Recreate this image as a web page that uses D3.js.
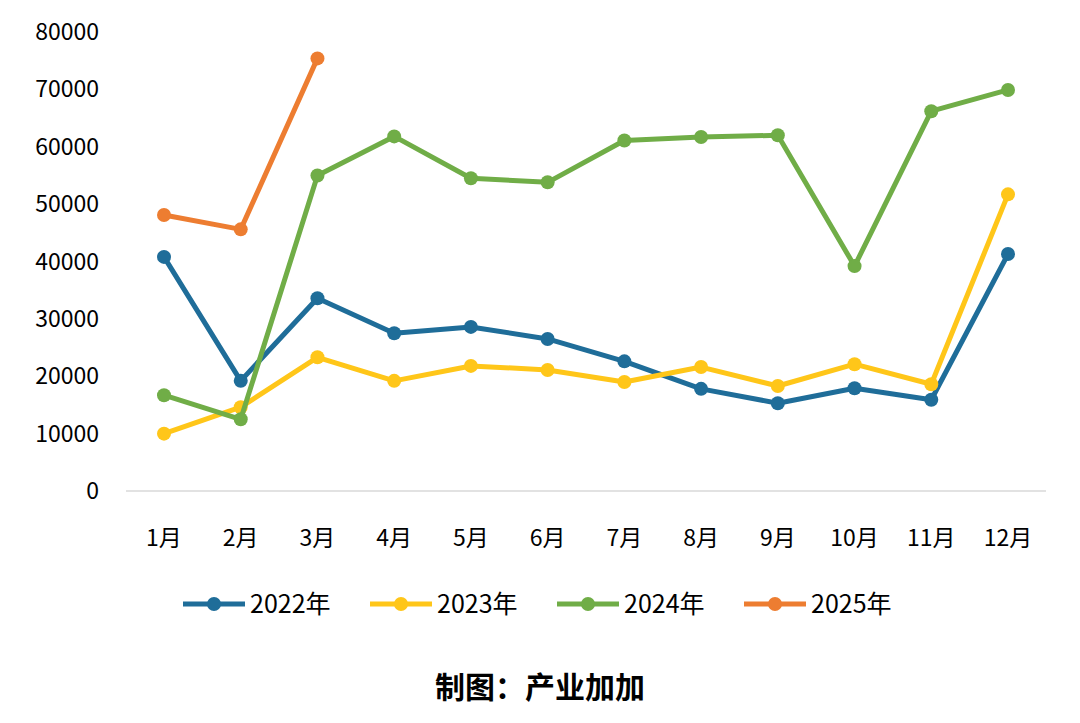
<!DOCTYPE html><html><head><meta charset="utf-8"><script src="https://cdn.jsdelivr.net/npm/d3@7"></script>
<style>body{margin:0;background:#fff}text{font-family:"Noto Sans CJK SC","Open Sans",sans-serif}</style></head><body>
<svg id="c" width="1080" height="723"></svg>
<script>
const months=["1月","2月","3月","4月","5月","6月","7月","8月","9月","10月","11月","12月"];
const yTicks=[0,10000,20000,30000,40000,50000,60000,70000,80000];
const s2022=[40800,19200,33600,27500,28600,26500,22600,17800,15300,17900,15900,41300];
const s2023=[10000,14600,23300,19200,21800,21100,19000,21600,18300,22100,18600,51700];
const s2024=[16700,12500,55000,61800,54500,53800,61100,61700,62000,39200,66200,69900];
const s2025=[48100,45600,75400];
const series=[{n:"2022年",v:s2022,c:"#1f6d99"},{n:"2023年",v:s2023,c:"#ffc619"},{n:"2024年",v:s2024,c:"#70ad47"},{n:"2025年",v:s2025,c:"#ed7d31"}];
const svg=d3.select("#c");
const x=d3.scalePoint().domain(months).range([164,1008]);
const y=d3.scaleLinear().domain([0,80000]).range([491,32]);
svg.append("line").attr("x1",126).attr("x2",1046).attr("y1",y(0)).attr("y2",y(0)).attr("stroke","#d9d9d9").attr("stroke-width",1.5);
svg.selectAll(".yt").data(yTicks).join("text").attr("x",99).attr("y",d=>y(d)+8).attr("text-anchor","end").attr("font-size",23).attr("fill","#000").text(d=>d);
svg.selectAll(".xt").data(months).join("text").attr("x",d=>x(d)).attr("y",546).attr("text-anchor","middle").attr("font-size",23).attr("fill","#000").text(d=>d);
const line=d3.line().x((d,i)=>x(months[i])).y(d=>y(d));
series.forEach(s=>{
 svg.append("path").attr("d",line(s.v)).attr("fill","none").attr("stroke",s.c).attr("stroke-width",5).attr("stroke-linejoin","round");
 svg.selectAll(null).data(s.v).join("circle").attr("cx",(d,i)=>x(months[i])).attr("cy",d=>y(d)).attr("r",7).attr("fill",s.c);
});
const lx=[183,370,557,744];
series.forEach((s,i)=>{
 const g=svg.append("g").attr("transform",`translate(${lx[i]},604)`);
 g.append("line").attr("x1",0).attr("x2",62).attr("stroke",s.c).attr("stroke-width",5);
 g.append("circle").attr("cx",31).attr("r",7).attr("fill",s.c);
 g.append("text").attr("x",67).attr("y",9).attr("font-size",25).text(s.n);
});
svg.append("text").attr("x",540).attr("y",698).attr("text-anchor","middle").attr("font-size",30).attr("font-weight","bold").text("制图：产业加加");
</script></body></html>
